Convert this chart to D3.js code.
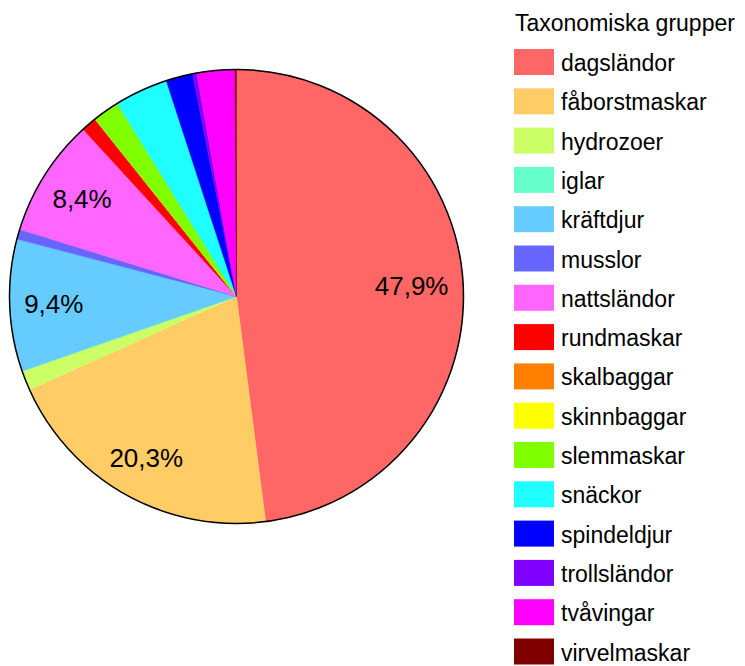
<!DOCTYPE html>
<html>
<head>
<meta charset="utf-8">
<script src="https://cdn.jsdelivr.net/npm/d3@7"></script>
<style>
  body { margin: 0; background: #fff; }
  text { font-family: "Liberation Sans", Arial, Helvetica, sans-serif; }
</style>
</head>
<body>
<div id="pie-chart"></div>
<script>
// data, alphabetical like the legend (percent)
const groups = [
  "dagsländor", "fåborstmaskar", "hydrozoer", "iglar", "kräftdjur", "musslor",
  "nattsländor", "rundmaskar", "skalbaggar", "skinnbaggar", "slemmaskar",
  "snäckor", "spindeldjur", "trollsländor", "tvåvingar", "virvelmaskar"
];
const shares = [47.9, 20.3, 1.4, 0, 9.4, 0.7, 8.4, 1.1, 0, 0, 1.9, 3.8, 1.9, 0.3, 2.7, 0.1];
const colors = [
  "#ff6666", "#ffcc66", "#ccff66", "#66ffcc", "#66ccff", "#6666ff",
  "#ff66ff", "#ff0000", "#ff8000", "#ffff00", "#80ff00",
  "#1fffff", "#0000ff", "#8000ff", "#ff00ff", "#800000"
];
const labelled = ["dagsländor", "fåborstmaskar", "kräftdjur", "nattsländor"];
const legendTitle = "Taxonomiska grupper";

const dataset = groups.map((g, i) => ({ name: g, value: shares[i] }));

// dimensions
let dimensions = {
  width: 745,
  height: 666,
  cx: 236.5,
  cy: 296.5,
  radius: 227,
  legend: { x: 514, y: 49, step: 39.3, swatchW: 40, swatchH: 26 },
};

const wrapper = d3.select("#pie-chart")
  .append("svg")
    .attr("width", dimensions.width)
    .attr("height", dimensions.height);

const color = d3.scaleOrdinal().domain(groups).range(colors);

// pie
const pie = d3.pie()
  .value(d => d.value)
  .sort(null);

const arc = d3.arc()
  .innerRadius(0)
  .outerRadius(dimensions.radius);

const bounds = wrapper.append("g")
  .attr("transform", `translate(${dimensions.cx},${dimensions.cy})`);

const arcs = pie(dataset);

bounds.selectAll("path")
  .data(arcs)
  .join("path")
    .attr("d", arc)
    .attr("fill", d => color(d.data.name))
    .attr("stroke", d => color(d.data.name))
    .attr("stroke-width", 0.5);

bounds.append("circle")
  .attr("r", dimensions.radius)
  .attr("fill", "none")
  .attr("stroke", "#000")
  .attr("stroke-width", 1.5);

// labels: push text out along mid angle until its outer corner nears the rim
const fmt = v => d3.format(".1f")(v).replace(".", ",") + "%";
const labelFont = 26;
const rimR = dimensions.radius - 14;

bounds.selectAll("text.label")
  .data(arcs.filter(d => labelled.includes(d.data.name)))
  .join("text")
    .attr("class", "label")
    .attr("text-anchor", "middle")
    .attr("font-size", labelFont)
    .attr("fill", "#000")
    .text(d => fmt(d.data.value))
    .each(function(d) {
      const a = (d.startAngle + d.endAngle) / 2;
      const ux = Math.sin(a), uy = -Math.cos(a);
      const w = this.getComputedTextLength();
      const h = labelFont * 0.72;
      const c = [Math.sign(ux) * w / 2, Math.sign(uy) * h / 2];
      const uc = ux * c[0] + uy * c[1];
      const cc = c[0] * c[0] + c[1] * c[1];
      const t = -uc + Math.sqrt(uc * uc - cc + rimR * rimR);
      d3.select(this)
        .attr("x", t * ux)
        .attr("y", t * uy + h / 2);
    });

// legend
const lg = dimensions.legend;
const legend = wrapper.append("g");

legend.append("text")
  .attr("x", lg.x + 1)
  .attr("y", 31)
  .attr("font-size", 23)
  .attr("fill", "#000")
  .text(legendTitle);

const rows = legend.selectAll("g.row")
  .data(groups)
  .join("g")
    .attr("class", "row")
    .attr("transform", (d, i) => `translate(${lg.x},${lg.y + i * lg.step})`);

rows.append("rect")
  .attr("width", lg.swatchW)
  .attr("height", lg.swatchH)
  .attr("fill", d => color(d));

rows.append("text")
  .attr("x", lg.swatchW + 7)
  .attr("y", lg.swatchH / 2 + 1)
  .attr("dy", "0.35em")
  .attr("font-size", 23)
  .attr("fill", "#000")
  .text(d => d);
</script>
</body>
</html>
